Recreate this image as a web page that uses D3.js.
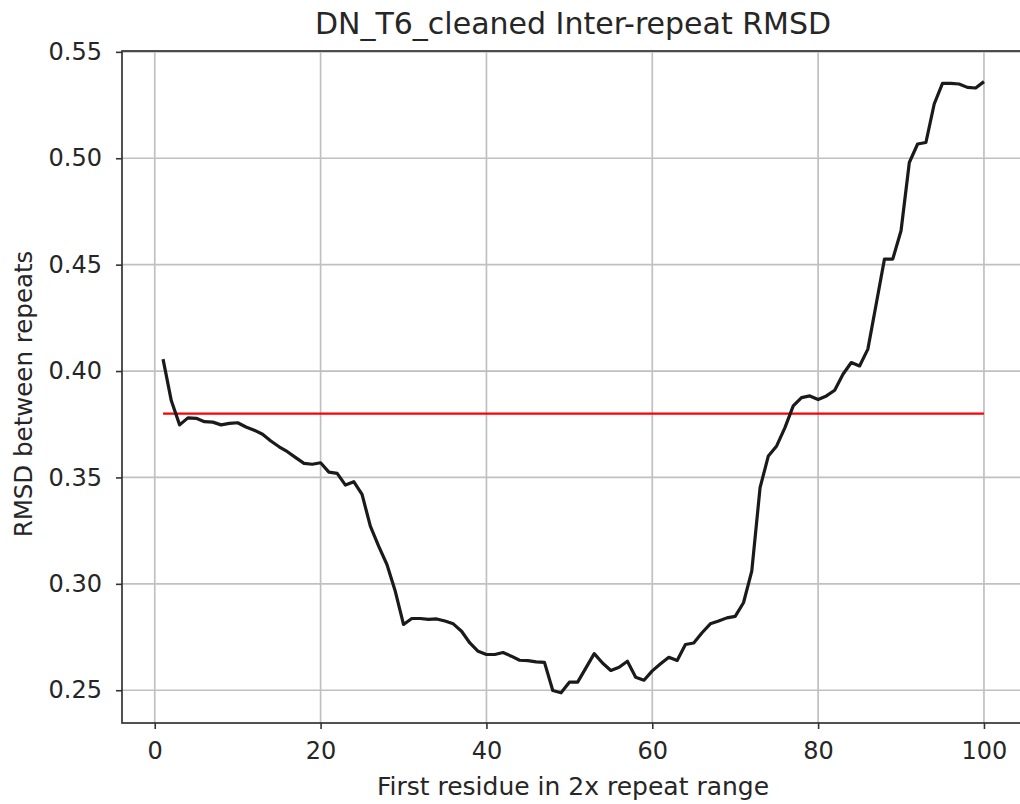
<!DOCTYPE html>
<html><head><meta charset="utf-8">
<script src="https://cdn.jsdelivr.net/npm/d3@7"></script>
<style>body{margin:0;background:#fff;} svg{display:block;} text{font-family:"DejaVu Sans",sans-serif;fill:#262626;}</style>
</head><body>
<svg id="c" width="1020" height="804"></svg>
<script>
const residues = d3.range(1, 101);
const rmsd = [
0.4056,0.386,0.3747,0.378,0.3778,0.3762,0.376,0.3747,0.3754,0.3757,
0.3737,0.3722,0.3703,0.3671,0.3644,0.3621,0.3593,0.3566,0.3562,0.3569,
0.3525,0.3519,0.3464,0.348,0.342,0.3271,0.3177,0.3091,0.2966,0.2809,
0.2837,0.2837,0.2833,0.2835,0.2825,0.2812,0.2777,0.2722,0.2683,0.2668,
0.2668,0.2677,0.266,0.2641,0.2639,0.2633,0.2631,0.2499,0.2488,0.2538,
0.2538,0.2605,0.2672,0.2628,0.2593,0.2608,0.2636,0.2561,0.2547,0.2591,
0.2624,0.2655,0.264,0.2715,0.2722,0.277,0.2812,0.2825,0.284,0.2847,
0.2911,0.306,0.3452,0.3601,0.3648,0.3734,0.3836,0.3875,0.3883,0.3866,
0.3883,0.391,0.3985,0.404,0.4024,0.4103,0.4314,0.4526,0.4526,0.4659,
0.498,0.5067,0.5074,0.5255,0.5352,0.5352,0.5349,0.5333,0.533,0.536];
const threshold = 0.38;
const xTicks = [0,20,40,60,80,100];
const yTicks = [0.25,0.30,0.35,0.40,0.45,0.50,0.55];
const titleText = "DN_T6_cleaned Inter-repeat RMSD";
const xLabel = "First residue in 2x repeat range";
const yLabel = "RMSD between repeats";

const svg = d3.select("#c");
const L=122, R=1025, T=51, B=723;
const x = d3.scaleLinear().domain([-3.95,104.95]).range([L,R]);
const y = d3.scaleLinear().domain([0.2346,0.5504]).range([B,T]);

// grid
const g = svg.append("g");
g.selectAll(".gx").data(xTicks).join("line")
 .attr("x1",d=>x(d)).attr("x2",d=>x(d)).attr("y1",T).attr("y2",B)
 .attr("stroke","#c0c0c0").attr("stroke-width",1.7);
g.selectAll(".gy").data(yTicks).join("line")
 .attr("y1",d=>y(d)).attr("y2",d=>y(d)).attr("x1",L).attr("x2",R)
 .attr("stroke","#c0c0c0").attr("stroke-width",1.7);

// threshold line
svg.append("line").attr("x1",x(1)).attr("x2",x(100)).attr("y1",y(threshold)).attr("y2",y(threshold))
 .attr("stroke","#ff0000").attr("stroke-width",2.2);

// data line
const line = d3.line().x((d,i)=>x(residues[i])).y(d=>y(d));
svg.append("path").datum(rmsd).attr("d",line).attr("fill","none")
 .attr("stroke","#1a1a1a").attr("stroke-width",3.2).attr("stroke-linejoin","round");

// axes
const xa = svg.append("g").attr("transform",`translate(0,${B})`)
 .call(d3.axisBottom(x).tickValues(xTicks).tickFormat(d3.format("d")).tickSize(6).tickPadding(13));
const ya = svg.append("g").attr("transform",`translate(${L},0)`)
 .call(d3.axisLeft(y).tickValues(yTicks).tickFormat(d3.format(".2f")).tickSize(6).tickPadding(14));
[xa,ya].forEach(a=>{
  a.select(".domain").remove();
  a.selectAll("line").attr("stroke","#333").attr("stroke-width",1.6);
  a.selectAll("text").style("font-size","24px").style("font-family","DejaVu Sans").attr("fill","#333");
});
// spines
svg.append("rect").attr("x",L).attr("y",T).attr("width",R-L).attr("height",B-T)
 .attr("fill","none").attr("stroke","#333").attr("stroke-width",1.7);

svg.append("text").attr("x",573).attr("y",34).attr("text-anchor","middle")
 .style("font-size","30px").text(titleText);
svg.append("text").attr("x",573).attr("y",795).attr("text-anchor","middle")
 .style("font-size","25px").text(xLabel);
svg.append("text").attr("transform","translate(32,394) rotate(-90)").attr("text-anchor","middle")
 .style("font-size","24.5px").text(yLabel);
</script>
</body></html>
